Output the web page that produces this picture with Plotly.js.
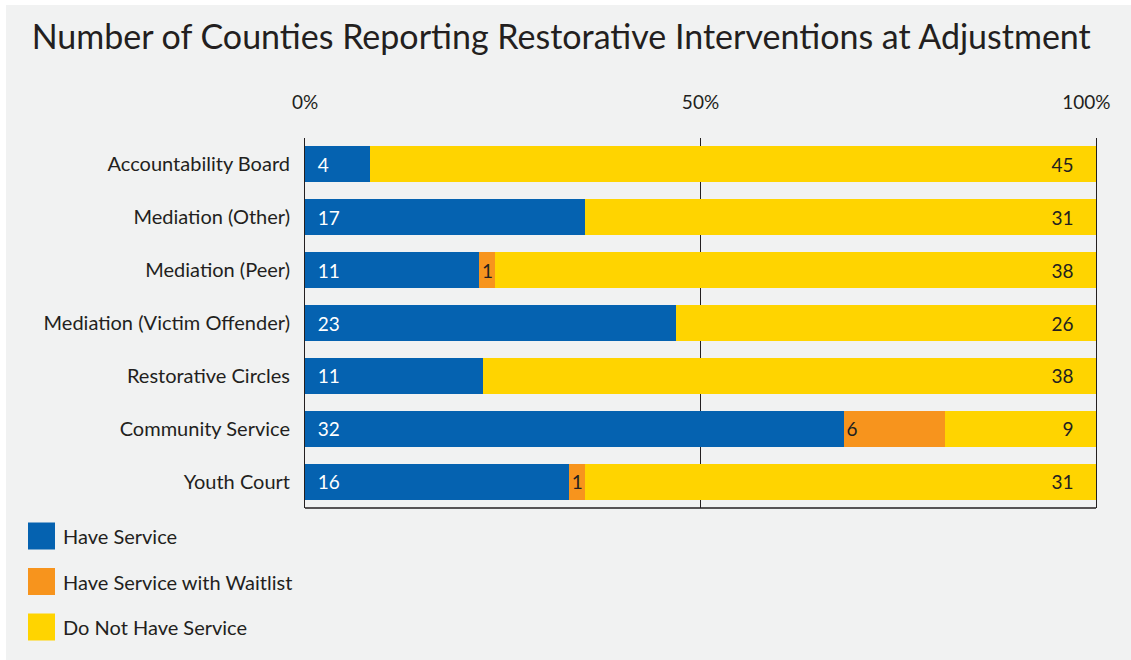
<!DOCTYPE html>
<html>
<head>
<meta charset="utf-8">
<script src="https://cdn.plot.ly/plotly-3.0.1.min.js"></script>
<style>
html,body{margin:0;padding:0;background:#ffffff;width:1131px;height:660px;overflow:hidden;}
#bg{position:absolute;left:6px;top:5px;width:1125px;height:655px;background:#f1f2f2;}
#chart{position:absolute;left:0;top:0;width:1131px;height:660px;}
</style>
</head>
<body>
<div id="bg"></div>
<div id="chart"></div>
<script>
const categories = ["Accountability Board","Mediation (Other)","Mediation (Peer)","Mediation (Victim Offender)","Restorative Circles","Community Service","Youth Court"];
const haveService = [4,17,11,23,11,32,16];
const haveWaitlist = [0,0,1,0,0,6,1];
const doNotHave = [45,31,38,26,38,9,31];
const seriesNames = ["Have Service","Have Service with Waitlist","Do Not Have Service"];
const seriesColors = ["#0562b0","#f7941d","#ffd400"];
const tickVals = [0,50,100];
const tickText = ["0%","50%","100%"];

const NB = "\u00a0";
const FONT = "Lato, 'Open Sans', sans-serif";

const traces = [
  {
    type:"bar", orientation:"h", name:seriesNames[0], y:categories, x:haveService,
    marker:{color:seriesColors[0]},
    text:haveService.map(v=>v>0?NB+NB+v:""), textposition:"inside", insidetextanchor:"start",
    constraintext:"none", textfont:{color:"#ffffff",size:19,family:FONT},
    hoverinfo:"name+x"
  },
  {
    type:"bar", orientation:"h", name:seriesNames[1], y:categories, x:haveWaitlist,
    marker:{color:seriesColors[1]},
    text:haveWaitlist.map(v=>v>0?String(v):""), textposition:"inside", insidetextanchor:"start",
    constraintext:"none", textfont:{color:"#231f20",size:19,family:FONT},
    hoverinfo:"name+x"
  },
  {
    type:"bar", orientation:"h", name:seriesNames[2], y:categories, x:doNotHave,
    marker:{color:seriesColors[2]},
    text:doNotHave.map(v=>v>0?v+NB+NB+NB+NB:""), textposition:"inside", insidetextanchor:"end",
    constraintext:"none", textfont:{color:"#231f20",size:19,family:FONT},
    hoverinfo:"name+x"
  }
];

// custom legend (large square swatches)
const legendShapes = [];
const legendAnn = [];
seriesNames.forEach((n,i)=>{
  const yc = 536 + i*45.5;
  legendShapes.push({type:"rect", xref:"paper", yref:"paper",
    x0:(28-305)/791, x1:(55-305)/791,
    y0:(508-(yc+13.5))/370, y1:(508-(yc-13.5))/370,
    fillcolor:seriesColors[i], line:{width:0}});
  legendAnn.push({xref:"paper", yref:"paper", x:(61-305)/791, y:(508-yc)/370,
    xanchor:"left", yanchor:"middle", showarrow:false, text:n,
    font:{family:FONT,size:20,color:"#231f20"}});
});

const layout = {
  width:1131, height:660,
  paper_bgcolor:"rgba(0,0,0,0)", plot_bgcolor:"rgba(0,0,0,0)",
  margin:{l:305, r:35, t:138, b:152, pad:0},
  barmode:"stack", barnorm:"percent", bargap:0.32,
  showlegend:false,
  title:{text:"Number of Counties Reporting Restorative Interventions at Adjustment",
    x:0.028, xanchor:"left", y:0.944, yanchor:"middle",
    font:{family:FONT,size:34,color:"#231f20"}},
  xaxis:{side:"top", range:[0,100], tickvals:tickVals,
    ticktext:tickText.map((t,i)=>i===tickText.length-1?t+NB+NB+NB+NB:t),
    ticklabeloverflow:"allow",
    showgrid:true, gridcolor:"#231f20", gridwidth:1, zeroline:false, showline:false,
    ticks:"outside", ticklen:20, tickcolor:"rgba(0,0,0,0)",
    tickfont:{family:FONT,size:19,color:"#231f20"}, fixedrange:true},
  yaxis:{autorange:"reversed", showline:true, mirror:true, linecolor:"#231f20", linewidth:1,
    showgrid:false, zeroline:false,
    ticks:"outside", ticklen:10, tickcolor:"rgba(0,0,0,0)",
    tickfont:{family:FONT,size:20,color:"#231f20"}, fixedrange:true},
  shapes:[{type:"line", xref:"paper", yref:"paper", x0:0, x1:1, y0:0, y1:0,
    line:{color:"#231f20", width:1.5}}].concat(legendShapes),
  annotations:legendAnn
};

Plotly.newPlot("chart", traces, layout, {displayModeBar:false, staticPlot:true});
</script>
</body>
</html>
